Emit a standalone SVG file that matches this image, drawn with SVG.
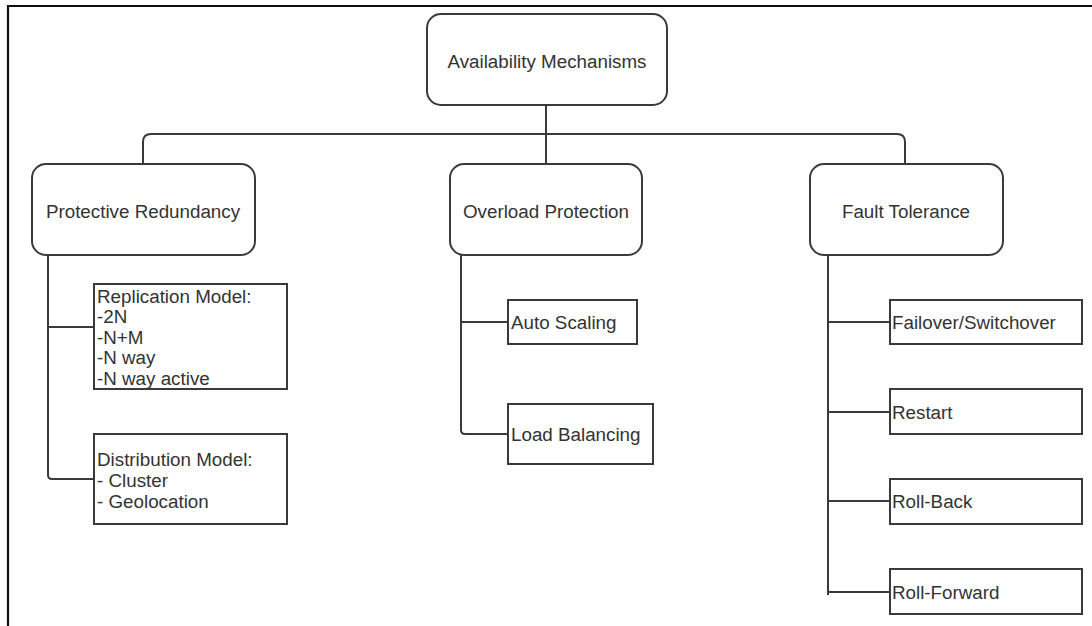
<svg xmlns="http://www.w3.org/2000/svg" width="1092" height="626" viewBox="0 0 1092 626">
<style>
.frame{fill:none;stroke:#111;stroke-width:2.2}
.rbox{fill:#fff;stroke:#3a3a3a;stroke-width:2}
.box{fill:#fff;stroke:#3a3a3a;stroke-width:2}
.conn{fill:none;stroke:#3a3a3a;stroke-width:2}
text{font-family:"Liberation Sans",Arial,sans-serif;font-size:18.8px;fill:#333}
.c{text-anchor:middle}
</style>
<rect width="1092" height="626" fill="#fff"/>
<path class="frame" d="M8,626 V6 H1092"/>
<g id="connectors">
<path class="conn" d="M546,105 V164"/>
<path class="conn" d="M143,164 V142 Q143,134 151,134 H897 Q905,134 905,142 V164"/>
<path class="conn" d="M48,255 V475 Q48,479 52,479 H94"/>
<path class="conn" d="M48,327 H94"/>
<path class="conn" d="M461,255 V430 Q461,434 465,434 H508"/>
<path class="conn" d="M461,322 H508"/>
<path class="conn" d="M828,255 V595"/>
<path class="conn" d="M828,322 H890"/>
<path class="conn" d="M828,412 H890"/>
<path class="conn" d="M828,501 H890"/>
<path class="conn" d="M828,592 H890"/>
</g>
<g id="root">
<rect class="rbox" x="427" y="14" width="240" height="91" rx="14"/>
<text class="c" x="547" y="67.5">Availability Mechanisms</text>
</g>
<g id="protective-redundancy">
<rect class="rbox" x="32" y="164" width="223" height="91" rx="14"/>
<text class="c" x="143" y="217.5">Protective Redundancy</text>
</g>
<g id="overload-protection">
<rect class="rbox" x="450" y="164" width="192" height="91" rx="14"/>
<text class="c" x="546" y="217.5">Overload Protection</text>
</g>
<g id="fault-tolerance">
<rect class="rbox" x="810" y="164" width="193" height="91" rx="14"/>
<text class="c" x="906" y="217.5">Fault Tolerance</text>
</g>
<g id="replication-model">
<rect class="box" x="94" y="284" width="193" height="105"/>
<text x="97" y="302.5">Replication Model:</text>
<text x="97" y="323">-2N</text>
<text x="97" y="343.5">-N+M</text>
<text x="97" y="364">-N way</text>
<text x="97" y="384.5">-N way active</text>
</g>
<g id="distribution-model">
<rect class="box" x="94" y="434" width="193" height="90"/>
<text x="97" y="465.5">Distribution Model:</text>
<text x="97" y="486.5">- Cluster</text>
<text x="97" y="507.5">- Geolocation</text>
</g>
<g id="auto-scaling">
<rect class="box" x="508" y="300" width="129" height="44"/>
<text x="511" y="328.5">Auto Scaling</text>
</g>
<g id="load-balancing">
<rect class="box" x="508" y="404" width="145" height="60"/>
<text x="511" y="440.5">Load Balancing</text>
</g>
<g id="failover">
<rect class="box" x="890" y="300" width="192" height="44"/>
<text x="892" y="328.5">Failover/Switchover</text>
</g>
<g id="restart">
<rect class="box" x="890" y="389" width="192" height="45"/>
<text x="892" y="419">Restart</text>
</g>
<g id="roll-back">
<rect class="box" x="890" y="479" width="192" height="45"/>
<text x="892" y="508">Roll-Back</text>
</g>
<g id="roll-forward">
<rect class="box" x="890" y="569" width="192" height="45"/>
<text x="892" y="598.5">Roll-Forward</text>
</g>
</svg>
